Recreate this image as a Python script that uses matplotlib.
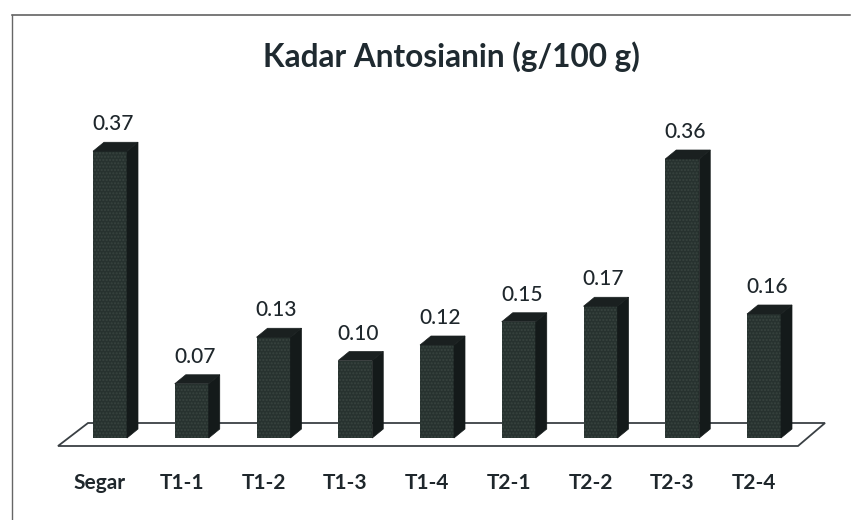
import matplotlib
matplotlib.use('Agg')
import matplotlib.pyplot as plt
from matplotlib.lines import Line2D
from matplotlib.patches import Polygon

categories = ['Segar', 'T1-1', 'T1-2', 'T1-3', 'T1-4', 'T2-1', 'T2-2', 'T2-3', 'T2-4']
values = [0.37, 0.07, 0.13, 0.10, 0.12, 0.15, 0.17, 0.36, 0.16]

W, H = 863, 520
first_x = 110     # pixel of first bar centre
step = 81.75      # pixels per category
floor_y = 438     # pixel of value 0
scale = 775       # pixels per 1.0

# pixel lengths turned into data units
def px(n):
    return n / step

def py(n):
    return n / scale

plt.rcParams['font.family'] = ['Lato', 'DejaVu Sans']
fig = plt.figure(figsize=(W / 100, H / 100), dpi=100)
ax = fig.add_axes([0, 0, 1, 1])
ax.set_xlim(-first_x / step, (W - first_x) / step)
ax.set_ylim(-(H - floor_y) / scale, floor_y / scale)
ax.axis('off')

# floor
floor = Polygon([(px(58 - first_x), py(-8)), (px(88 - first_x), py(15)),
                 (px(825 - first_x), py(15)), (px(798 - first_x), py(-8))],
                closed=True, facecolor='white', edgecolor='#3a4044', linewidth=1.3, zorder=1)
ax.add_patch(floor)

bw = px(34)
side = px(11)
rise = py(9)
front_col = '#27322f'
side_col = '#141a1a'
top_col = '#1a2020'

for i, v in enumerate(values):
    l = i - bw / 2
    r = i + bw / 2
    ax.bar(i, v, width=bw, color=front_col, hatch='.....', edgecolor='#38443f', linewidth=0, zorder=3)
    ax.add_patch(Polygon([(r, 0), (r + side, rise), (r + side, v + rise), (r, v)],
                         closed=True, facecolor=side_col, edgecolor=side_col, linewidth=0.5, zorder=3))
    ax.add_patch(Polygon([(l, v), (l + side, v + rise), (r + side, v + rise), (r, v)],
                         closed=True, facecolor=top_col, edgecolor=top_col, linewidth=0.5, zorder=3))
    ax.text(i + px(3), v + py(27), '%.2f' % v, ha='center', va='center',
            fontsize=15, fontweight='medium', color='#1f272c')
    ax.text(i - px(10), py(-45), categories[i], ha='center', va='center',
            fontsize=15, fontweight='bold', color='#1f272c')

fig.text(451 / W, 1 - 57 / H, 'Kadar Antosianin (g/100 g)', ha='center', va='center',
         fontsize=22.7, fontweight='bold', color='#1f2a30')

# scanned frame, top and left only
fig.add_artist(Line2D([12 / W, 850 / W], [1 - 15 / H, 1 - 15 / H], color='#555555', linewidth=1.1))
fig.add_artist(Line2D([12 / W, 12 / W], [1 - 15 / H, 0], color='#666666', linewidth=1))

fig.savefig('out.png', dpi=100)
